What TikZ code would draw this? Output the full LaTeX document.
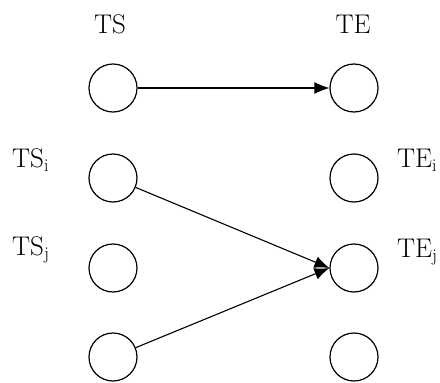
\documentclass[tikz,border=0pt]{standalone}
\usepackage{fontspec}
\usetikzlibrary{arrows.meta}
\tikzstyle{arrow} = [draw, line width=1.1pt, -{Latex[length=15pt,width=12pt]}]
\tikzstyle{slot} = [circle, draw, line width=1.2pt, minimum size=48pt, inner sep=0pt]
\tikzstyle{lbl} = [font={\fontsize{27}{27}\selectfont}, inner sep=0pt]
\newcommand{\idx}[1]{\raisebox{-4pt}{\fontsize{18}{18}\selectfont #1}}

\begin{document}
\begin{tikzpicture}[x=1pt, y=-1pt]
    \useasboundingbox (0,0) rectangle (440,383);
    \node [lbl, anchor=base] at (110,33) (ts) {TS};
    \node [lbl, anchor=base] at (353,33) (te) {TE};
    \node [lbl, anchor=base west] at (12,167) (tsi) {TS\idx{i}};
    \node [lbl, anchor=base west] at (12,255) (tsj) {TS\idx{j}};
    \node [lbl, anchor=base west] at (397,167) (tei) {TE\idx{i}};
    \node [lbl, anchor=base west] at (397,257) (tej) {TE\idx{j}};
    \node [slot] at (113,88) (s0) {};
    \node [slot] at (113,178) (s1) {};
    \node [slot] at (113,268) (s2) {};
    \node [slot] at (113,357) (s3) {};
    \node [slot] at (354,88) (e0) {};
    \node [slot] at (354,178) (e1) {};
    \node [slot] at (354,268) (e2) {};
    \node [slot] at (354,357) (e3) {};
    \path [arrow] (s0) -- (e0);
    \path [arrow] (s1) -- (e2.west);
    \path [arrow] (s3) -- (e2.west);
\end{tikzpicture}
\end{document}
